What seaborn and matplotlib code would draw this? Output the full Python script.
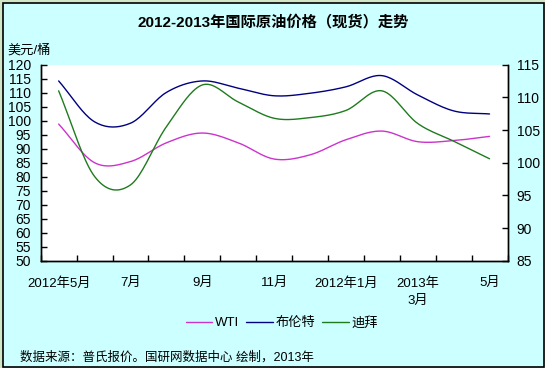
import numpy as np
import pandas as pd
import matplotlib
matplotlib.use("Agg")
import matplotlib.pyplot as plt
from matplotlib.patches import Rectangle
from matplotlib.lines import Line2D
import seaborn as sns

sns.set_style("ticks")
plt.rcParams['font.family'] = ['Liberation Sans', 'Noto Sans CJK SC', 'DejaVu Sans']
plt.rcParams['axes.unicode_minus'] = False
plt.rcParams['text.color'] = 'black'
plt.rcParams['xtick.color'] = 'black'
plt.rcParams['ytick.color'] = 'black'

# 2012年5月 - 2013年5月, monthly
months = ['2012年5月', '', '7月', '', '9月', '', '11月', '', '2012年1月', '', '2013年\n3月', '', '5月']
wti = [98.8, 85.0, 85.4, 92.1, 95.6, 92.1, 86.3, 87.8, 93.2, 96.3, 92.5, 92.9, 94.4]
brent = [114.2, 99.6, 99.1, 110.1, 114.2, 111.6, 108.9, 109.8, 112.1, 116.1, 109.2, 103.5, 102.4]
dubai = [111.0, 97.9, 96.6, 105.5, 111.9, 109.3, 106.8, 106.9, 108.0, 111.0, 106.0, 103.3, 100.6]

C_WTI = '#CC33CC'
C_BRENT = '#000080'
C_DUBAI = '#1E7B1E'


def smooth(vals, steps=20):
    # catmull-rom, like excel's smoothed line
    y = np.asarray(vals, dtype=float)
    n = len(y)
    p = np.concatenate([[2 * y[0] - y[1]], y, [2 * y[-1] - y[-2]]])
    xs, ys = [], []
    for i in range(n - 1):
        p0, p1, p2, p3 = p[i], p[i + 1], p[i + 2], p[i + 3]
        t = np.linspace(0, 1, steps, endpoint=False)
        m1 = (p2 - p0) / 2
        m2 = (p3 - p1) / 2
        h00 = 2 * t**3 - 3 * t**2 + 1
        h10 = t**3 - 2 * t**2 + t
        h01 = -2 * t**3 + 3 * t**2
        h11 = t**3 - t**2
        xs.append(i + t)
        ys.append(h00 * p1 + h10 * m1 + h01 * p2 + h11 * m2)
    xs.append([n - 1])
    ys.append([y[-1]])
    return pd.DataFrame({'x': np.concatenate(xs), 'y': np.concatenate(ys)})


fig = plt.figure(figsize=(5.45, 3.68), dpi=100)
fig.patch.set_facecolor('#D2E6C8')
fig.patches.append(Rectangle((2.5 / 545, 1 / 368), 541.5 / 545, 364.5 / 368,
                             transform=fig.transFigure, facecolor='#CCFFFF',
                             edgecolor='black', linewidth=1.2, zorder=-10))

ax = fig.add_axes([40.7 / 545, 1 - 260.7 / 368, 466.8 / 545, 196 / 368])
ax.set_facecolor('white')
ax2 = ax.twinx()

sns.lineplot(data=smooth(wti), x='x', y='y', sort=False, ax=ax, color=C_WTI, linewidth=1.0)
sns.lineplot(data=smooth(brent), x='x', y='y', sort=False, ax=ax, color=C_BRENT, linewidth=1.0)
sns.lineplot(data=smooth(dubai), x='x', y='y', sort=False, ax=ax2, color=C_DUBAI, linewidth=1.0)

ax.set_xlim(-0.5, len(months) - 0.5)
ax.set_ylim(50, 120)
ax2.set_ylim(85, 115)
ax.set_yticks(np.arange(50, 121, 5))
ax2.set_yticks(np.arange(85, 116, 5))
ax.set_xticks(range(len(months)))
ax.set_xticklabels(months, fontsize=9.5, linespacing=1.55)
ax.set_xticks(np.arange(-0.5, len(months)), minor=True)
ax.tick_params(axis='x', which='major', length=0, pad=12)
ax.tick_params(axis='x', which='minor', direction='in', length=4, width=1, color='black')
ax.tick_params(axis='y', direction='in', length=4, width=1, labelsize=10, pad=7)
ax2.tick_params(axis='y', direction='in', length=4, width=1, labelsize=10, pad=6.5)
for a in (ax, ax2):
    a.set_xlabel('')
    a.set_ylabel('')
    a.spines['top'].set_visible(False)
    for s in ('left', 'right', 'bottom'):
        a.spines[s].set_color('black')
        a.spines[s].set_linewidth(1.0)

fig.text(273 / 545, 1 - 22 / 368, '2012-2013年国际原油价格（现货）走势',
         ha='center', va='center', fontsize=11, fontweight='bold')
fig.text(7.5 / 545, 1 - 50 / 368, '美元/桶', ha='left', va='center', fontsize=9.5)
fig.text(20 / 545, 1 - 357 / 368, '数据来源：普氏报价。国研网数据中心 绘制，2013年',
         ha='left', va='center', fontsize=9)

handles = [Line2D([], [], color=C_WTI, lw=1.0),
           Line2D([], [], color=C_BRENT, lw=1.0),
           Line2D([], [], color=C_DUBAI, lw=1.0)]
fig.legend(handles, ['WTI', '布伦特', '迪拜'], loc='center', bbox_to_anchor=(282 / 545, 1 - 323 / 368),
           ncol=3, frameon=False, fontsize=9.5, handlelength=2.0, handletextpad=0.25,
           columnspacing=0.5)

fig.savefig('out.png', dpi=100, facecolor=fig.get_facecolor())
